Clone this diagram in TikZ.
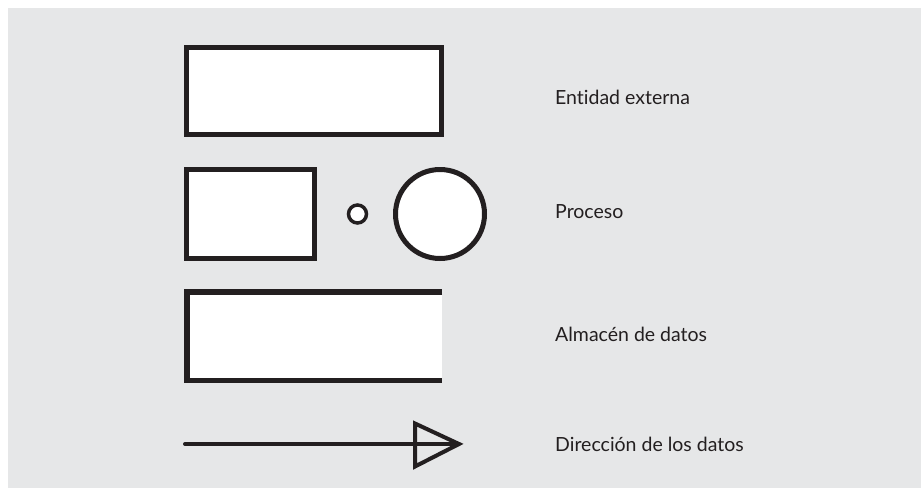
\documentclass[tikz,border=0pt]{standalone}
\usepackage{fontspec}
\setmainfont{Lato}[Ligatures=NoCommon]
\usetikzlibrary{arrows.meta}
\definecolor{panel}{HTML}{E6E7E8}
\definecolor{ink}{HTML}{231F20}

\begin{document}
\begin{tikzpicture}[x=1pt, y=-1pt,
    symbol/.style={draw=ink, line width=5pt, fill=white, inner sep=0pt, outer sep=0pt},
    legend/.style={anchor=base west, text=ink, inner sep=0pt,
      font=\fontsize{19.5}{23}\selectfont},
  ]
  \useasboundingbox (0,0) rectangle (921,488);
  \fill[white] (0,0) rectangle (921,488);
  \fill[panel] (8,8) rectangle (921,488);
  % shapes
  \node[symbol, minimum width=255, minimum height=87] (entity) at (314,91) {};
  \node[symbol, minimum width=128, minimum height=89] (procbox) at (250.5,214) {};
  \node[symbol, circle, line width=3.5pt, minimum size=18] (procdot) at (357.5,214) {};
  \node[symbol, circle, minimum size=89] (procring) at (440,214) {};
  \coordinate (s1) at (442,291.75);
  \coordinate (s2) at (186.75,291.75);
  \coordinate (s3) at (186.75,380.25);
  \coordinate (s4) at (442,380.25);
  \fill[white] (s2) rectangle (s4);
  \draw[ink, line width=5.5pt] (s1) -- (s2) -- (s3) -- (s4);
  \coordinate (a)  at (185,444);
  \coordinate (b)  at (459,444);
  \coordinate (t1) at (415,423.5);
  \coordinate (t2) at (415,466.5);
  \draw[ink, line width=4pt, line cap=round] (a) -- (b);
  \draw[ink, line width=4pt, line join=miter] (t1) -- (b) -- (t2) -- cycle;
  % labels
  \node[legend] (entitytext) at (555,104) {Entidad externa};
  \node[legend] (proctext)   at (555,218) {Proceso};
  \node[legend] (storetext)  at (555,341) {Almacén de datos};
  \node[legend] (flowtext)   at (555,451) {Dirección de los datos};
\end{tikzpicture}
\end{document}
